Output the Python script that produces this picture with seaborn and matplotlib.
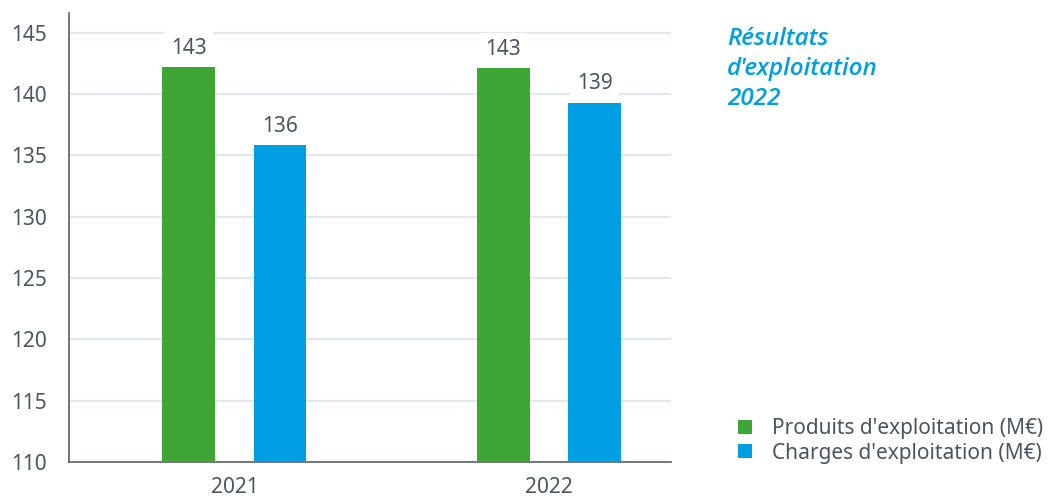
import matplotlib
matplotlib.use("Agg")
import matplotlib.pyplot as plt
import seaborn as sns
import pandas as pd
from matplotlib.patches import Patch

years = ["2021", "2022"]
series = ["Produits d'exploitation (M€)", "Charges d'exploitation (M€)"]
produits = [142.2, 142.1]
charges = [135.8, 139.3]
labels_produits = ["143", "143"]
labels_charges = ["136", "139"]
colors = ["#3fa535", "#009fe3"]
title_text = "Résultats\nd'exploitation\n2022"

sns.set_theme(style="white")
plt.rcParams['font.family'] = ['Noto Sans', 'DejaVu Sans']
txt = "#4a5561"

df = pd.DataFrame({
    "year": years * 2,
    "serie": [series[0]] * 2 + [series[1]] * 2,
    "value": produits + charges,
})

fig = plt.figure(figsize=(10.48, 4.99), dpi=100)
ax = fig.add_axes([69 / 1048, 37 / 499, (671 - 69) / 1048, (462 - 13) / 499])

sns.barplot(data=df, x="year", y="value", hue="serie", palette=colors,
            saturation=1, linewidth=0, width=0.58, gap=0.42, ax=ax,
            legend=False, zorder=3)

ax.set_ylim(110, 146.6)
ax.set_xlim(-0.526, 1.388)
ax.set_yticks(range(110, 146, 5))
ax.set_xlabel("")
ax.set_ylabel("")
for y in range(115, 146, 5):
    ax.axhline(y, color="#e3e7ee", lw=1.6, zorder=1)

for s in ["top", "right"]:
    ax.spines[s].set_visible(False)
for s in ["left", "bottom"]:
    ax.spines[s].set_color("#5a6068")
    ax.spines[s].set_linewidth(1.2)
ax.tick_params(axis="both", length=0, labelsize=15, colors=txt)
ax.tick_params(axis="y", pad=16)
ax.tick_params(axis="x", pad=11)

all_labels = [labels_produits, labels_charges]
for cont, labs in zip(ax.containers, all_labels):
    for bar, lab in zip(cont, labs):
        ax.annotate(lab, (bar.get_x() + bar.get_width() / 2, bar.get_height()),
                    xytext=(0, 6), textcoords="offset points",
                    ha="center", va="bottom", fontsize=15, color=txt,
                    zorder=4,
                    bbox=dict(boxstyle="square,pad=0.3", fc="white", ec="none"))

fig.text(727 / 1048, 1 - 27 / 499, title_text, ha="left", va="top",
         fontsize=17.5, color="#009fe3", style="italic", fontweight="semibold",
         family=["Open Sans", "DejaVu Sans"], linespacing=1.33)

handles = [Patch(facecolor=c, edgecolor="none") for c in colors]
fig.legend(handles, series, loc="center left",
           bbox_to_anchor=(728 / 1048, 1 - 441 / 499), frameon=False,
           fontsize=15, labelcolor=txt, handlelength=0.65, handleheight=0.65,
           handletextpad=0.95, labelspacing=0.15, borderpad=0)

fig.savefig("out.png", dpi=100)
